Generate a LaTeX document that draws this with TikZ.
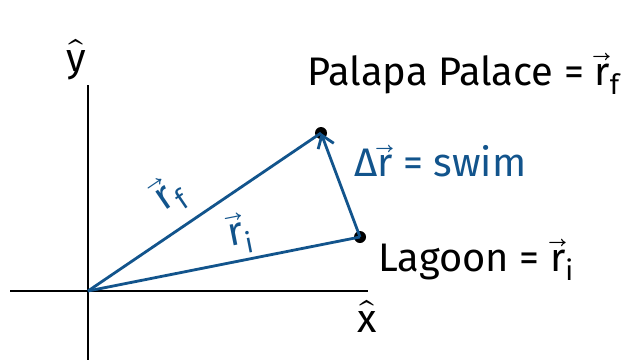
\documentclass[tikz,border=0pt]{standalone}
\usepackage{fontspec}
\usepackage{unicode-math}
\setmainfont{Fira Sans}
\setmathfont{Latin Modern Math}
\setmathrm{Fira Sans}
\usetikzlibrary{positioning,arrows.meta,calc}
\definecolor{penblue}{RGB}{18,84,140}
\newcommand{\vr}[1]{\vec{\mathrm{r}}_{\mathrm{#1}}}

\begin{document}
\begin{tikzpicture}[
  x=0.03cm, y=-0.03cm,
  every node/.style={font=\fontsize{34}{40}\selectfont, inner sep=1pt},
  axis/.style={line width=2.4pt, black},
  vec/.style={line width=2.4pt, penblue},
  arr/.style={vec, -{Straight Barb[length=3.5mm, width=5mm]}},
  dot/.style={circle, fill=black, inner sep=0pt, minimum size=3.6mm},
  lbl/.style={sloped, above, text=penblue, inner sep=4pt}
]
\useasboundingbox (0,0) rectangle (636,360);
% Axes
\coordinate (O) at (88,291);
\coordinate (xend) at (368,291);
\coordinate (xstart) at (10,291);
\coordinate (ytop) at (88,85);
\coordinate (ybot) at (88,360);
\draw[axis] (xstart) -- (xend);
\draw[axis] (ytop) -- (ybot);
\node (yhat) at (76,60) {$\hat{\mathrm{y}}$};
\node (xhat) at (367,316) {$\hat{\mathrm{x}}$};
% Points
\node[dot] (palace) at (321,133) {};
\node[dot] (lagoon) at (360,237) {};
% Vectors
\draw[vec] (O) -- node[lbl, pos=0.43, inner sep=10pt] {$\vr{f}$} (palace.center);
\draw[vec] (O) -- node[lbl, pos=0.58] {$\vr{i}$} (lagoon.center);
\draw[arr] (lagoon.center) -- (palace.center);
% Labels
\node[anchor=west] (palacelbl) at (306,74) {Palapa Palace = $\vr{f}$};
\node[anchor=west] (lagoonlbl) at (377,260) {Lagoon = $\vr{i}$};
\node[anchor=west, text=penblue] (swim) at (353,161) {Δ$\vec{\mathrm{r}}$ = swim};
\end{tikzpicture}
\end{document}
